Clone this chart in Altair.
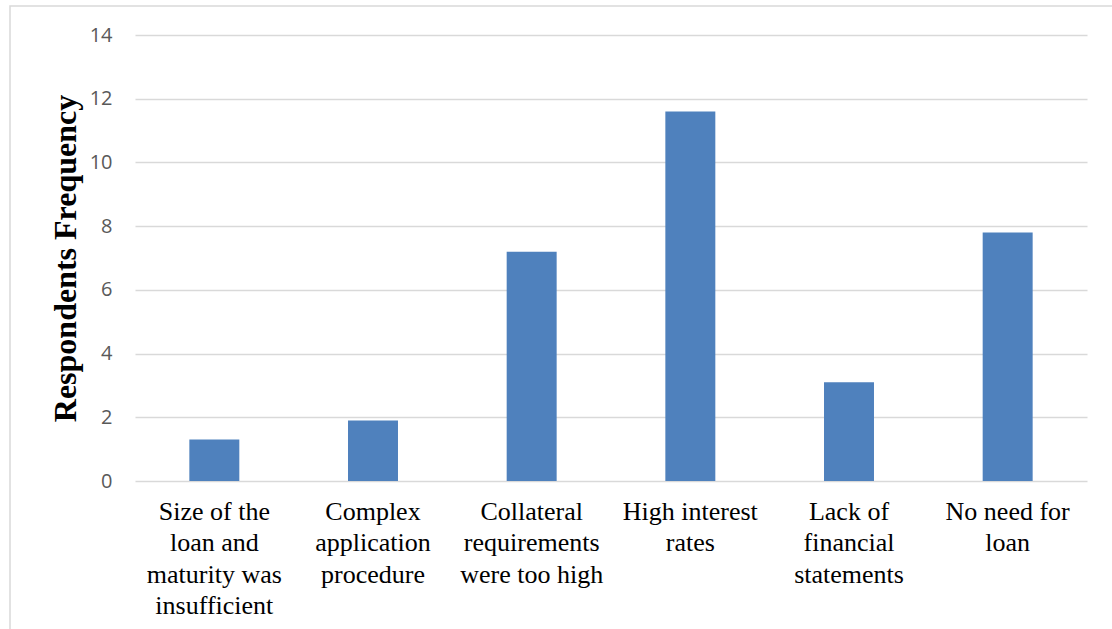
import altair as alt
import pandas as pd

# Reasons given for not applying for a loan ("|" marks a line break in the label)
reasons = [
    "Size of the|loan and|maturity was|insufficient",
    "Complex|application|procedure",
    "Collateral|requirements|were too high",
    "High interest|rates",
    "Lack of|financial|statements",
    "No need for|loan",
]
frequency = [1.3, 1.9, 7.2, 11.6, 3.1, 7.8]
y_ticks = [0, 2, 4, 6, 8, 10, 12, 14]

df = pd.DataFrame({"reason": reasons, "frequency": frequency})

bars = alt.Chart(df).mark_bar(color="#4F81BD").encode(
    x=alt.X(
        "reason:N",
        sort=reasons,
        title=None,
        scale=alt.Scale(paddingInner=0.685, paddingOuter=0.3425),
        axis=alt.Axis(
            labelExpr="split(datum.label, '|')",
            labelAngle=0,
            labelFont="Liberation Serif",
            labelFontSize=26,
            labelColor="#000000",
            labelLineHeight=31.5,
            labelPadding=17,
            labelLimit=400,
            ticks=False,
            domain=False,
            grid=False,
        ),
    ),
    y=alt.Y(
        "frequency:Q",
        scale=alt.Scale(domain=[0, 14], nice=False),
        axis=alt.Axis(
            values=y_ticks,
            title="Respondents Frequency",
            titleFont="Liberation Serif",
            titleFontWeight="bold",
            titleFontSize=32,
            titleColor="#000000",
            titlePadding=7,
            labelFont="Open Sans",
            labelFontSize=20,
            labelColor="#595959",
            labelPadding=23,
            ticks=False,
            domain=False,
            grid=True,
            gridColor="#D9D9D9",
            gridWidth=1.3,
        ),
    ),
)

# Thin outer frame around the whole figure
frame = alt.Chart(pd.DataFrame({"k": [0]})).mark_rect(
    fill="transparent", stroke="#D9D9D9", strokeWidth=1.5
).encode(
    x=alt.value(-125),
    x2=alt.value(1100),
    y=alt.value(-29),
    y2=alt.value(700),
)

chart = (
    alt.layer(frame, bars)
    .properties(
        width=952,
        height=446,
        autosize=alt.AutoSizeParams(type="none"),
        padding={"left": 135, "top": 35, "right": 25, "bottom": 148},
        background="#FFFFFF",
    )
    .configure_view(stroke=None)
)

chart.save("out.html", embed_options={"renderer": "svg", "actions": False})
